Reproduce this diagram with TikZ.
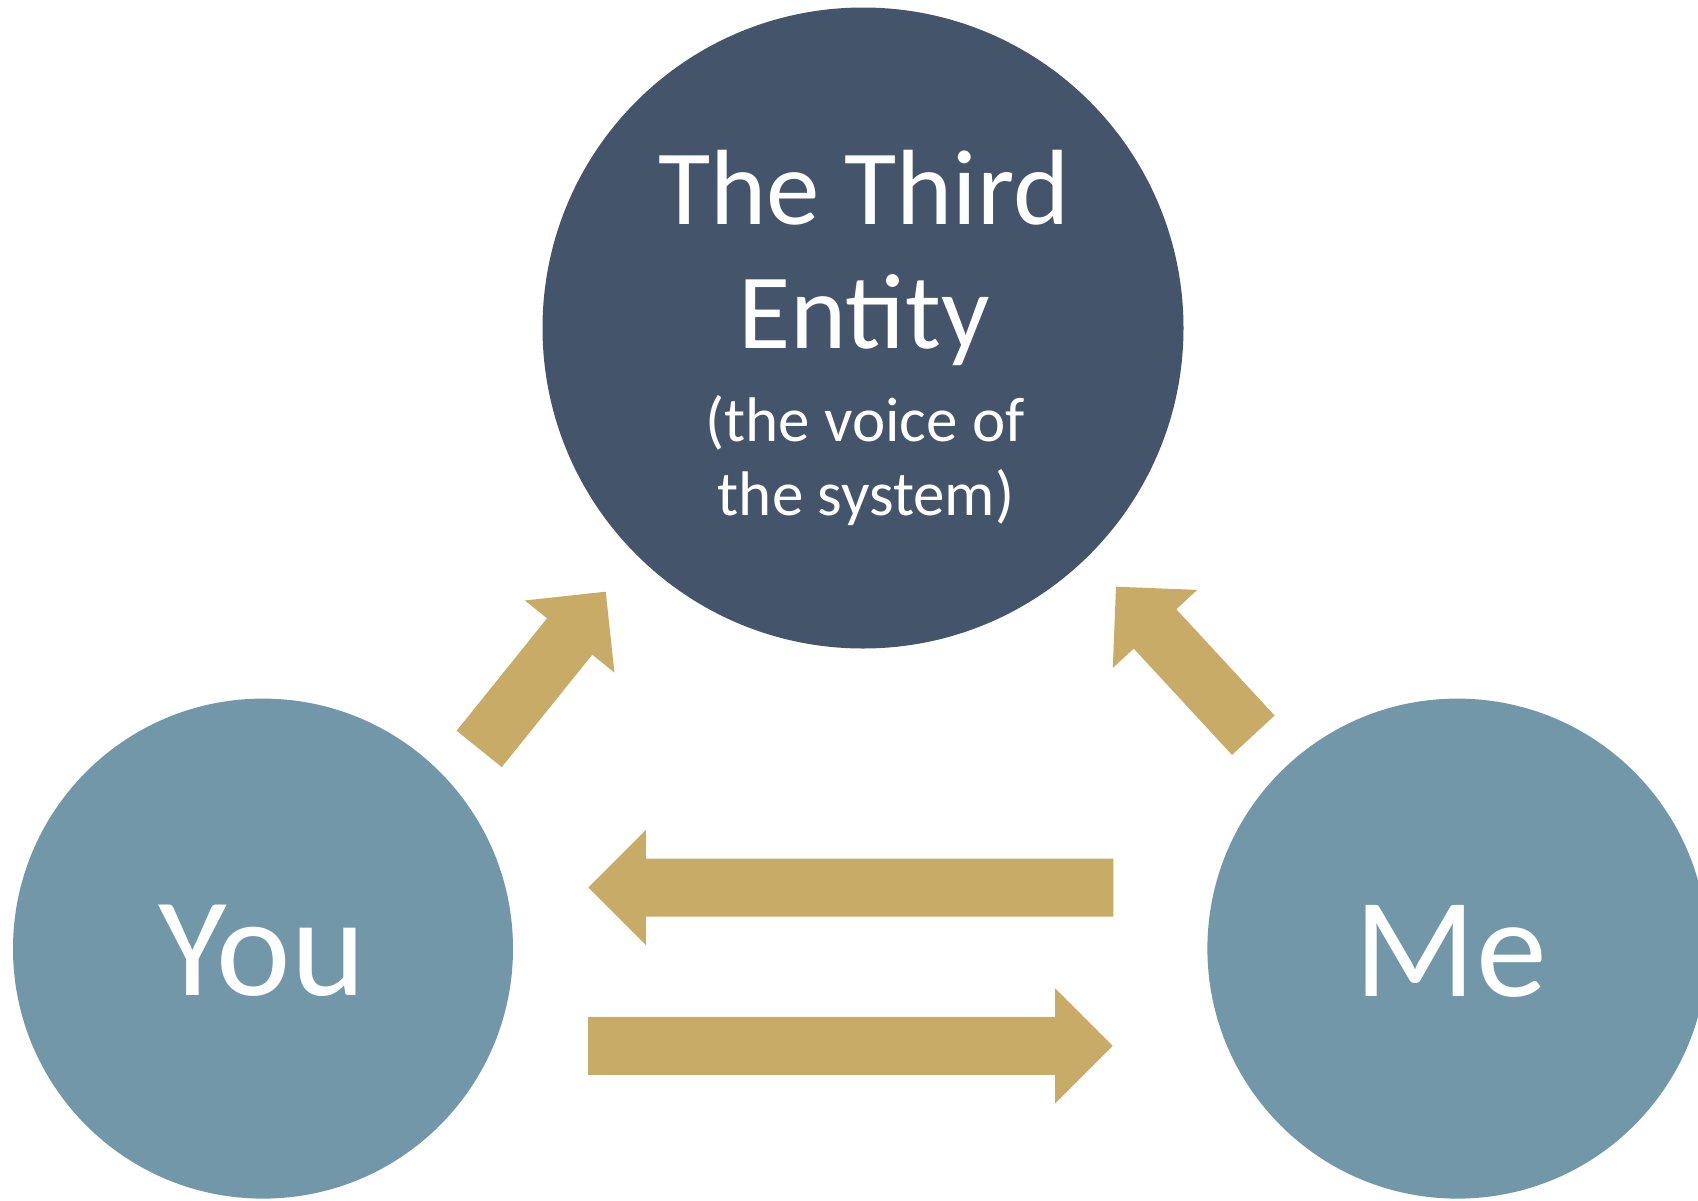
\documentclass[tikz,border=0pt]{standalone}
\usepackage{fontspec}
\setmainfont{Carlito}
\usetikzlibrary{calc}
\definecolor{topblue}{HTML}{44546A}
\definecolor{sideblue}{HTML}{7197A9}
\definecolor{arrowgold}{HTML}{C9AB68}
\tikzset{
  bigcircle/.style={circle, draw=none, inner sep=0pt},
  lbl/.style={text=white, inner sep=0pt, anchor=base},
  blockfill/.style={fill=arrowgold, draw=none}
}
\newcommand\blockarrow[2]{%
  \coordinate (#1-h) at ($(#2)!57.5pt!(#1)$);
  \fill[blockfill] ($(#1)!29pt!90:(#2)$) -- ($(#1-h)!29pt!90:(#2)$) -- ($(#1-h)!57.5pt!90:(#2)$) -- (#2)
    -- ($(#1-h)!57.5pt!-90:(#2)$) -- ($(#1-h)!29pt!-90:(#2)$) -- ($(#1)!29pt!-90:(#2)$) -- cycle;}
\begin{document}
\begin{tikzpicture}[x=1pt, y=-1pt]
\useasboundingbox (0,0) rectangle (1698,1200);
\clip (0,0) rectangle (1698,1200);
\fill[white] (0,0) rectangle (1698,1200);
% circles
\node[bigcircle, fill=topblue, minimum size=641pt] (third) at (863,328) {};
\node[bigcircle, fill=sideblue, minimum size=500pt] (you) at (263,948.6) {};
\node[bigcircle, fill=sideblue, minimum size=500pt] (me) at (1457.4,948.6) {};
% texts
\node[lbl, font=\fontsize{107}{115}\selectfont] (t1) at (864,224.5) {The Third};
\node[lbl, font=\fontsize{107}{115}\selectfont] (t2) at (864,348.5) {Entity};
\node[lbl, font=\fontsize{63}{70}\selectfont] (t3) at (865,441.5) {(the voice of};
\node[lbl, font=\fontsize{63}{70}\selectfont] (t4) at (866,515) {the system)};
\node[lbl, font=\fontsize{141}{150}\selectfont] (youtxt) at (262,995) {You};
\node[lbl, font=\fontsize{142}{150}\selectfont] (metxt) at (1451,996) {Me};
% arrow anchors
\coordinate (ld) at (479.2,748.9);
\coordinate (ldtip) at (605.7,591.7);
\coordinate (rd) at (1253.3,735.2);
\coordinate (rdtip) at (1116,586.7);
\coordinate (hl) at (1113.3,887.5);
\coordinate (hltip) at (588.3,887.5);
\coordinate (hr) at (588,1045.8);
\coordinate (hrtip) at (1112.7,1045.8);
\blockarrow{ld}{ldtip}
\blockarrow{rd}{rdtip}
\blockarrow{hl}{hltip}
\blockarrow{hr}{hrtip}
\end{tikzpicture}
\end{document}
